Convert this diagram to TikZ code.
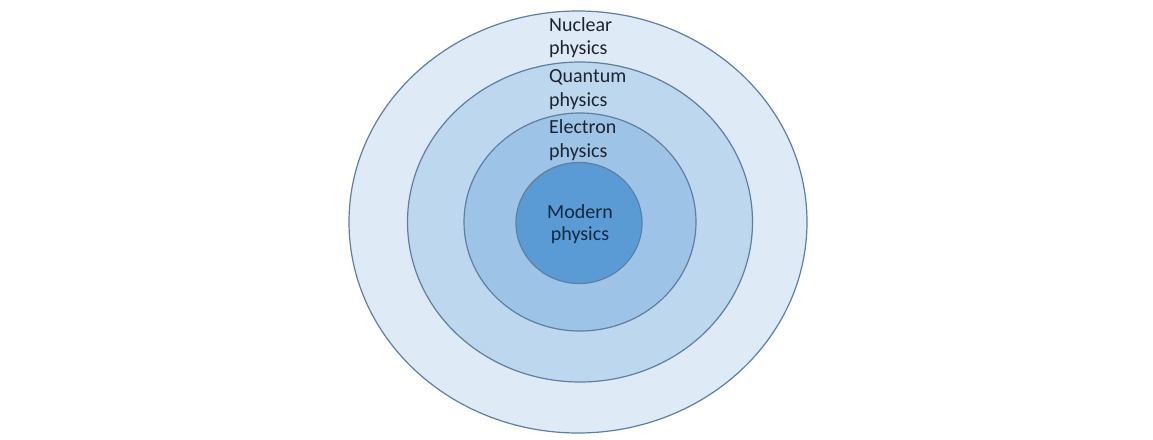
\documentclass[tikz,border=0pt]{standalone}
\usepackage{fontspec}
\setmainfont{Carlito}
\usetikzlibrary{shapes.geometric}
\definecolor{ringA}{HTML}{DEEAF6}
\definecolor{ringB}{HTML}{BDD7EE}
\definecolor{ringC}{HTML}{9DC3E6}
\definecolor{ringD}{HTML}{5B9BD5}
\definecolor{edgecol}{HTML}{5E7EA2}
\definecolor{txt}{HTML}{1C2430}
\definecolor{txtdark}{HTML}{0F2842}
\begin{document}
\begin{tikzpicture}[x=1pt,y=-1pt,
  ring/.style={ellipse, draw=edgecol, line width=1.2pt, inner sep=0pt},
  lbl/.style={anchor=base west, inner sep=0pt, text=txt, font=\fontsize{20}{23.5}\selectfont},
  clbl/.style={anchor=base, inner sep=0pt, text=txtdark, font=\fontsize{20}{23.5}\selectfont}]
\useasboundingbox[fill=white] (0,0) rectangle (1153,439);
\node[ring, fill=ringA, minimum width=458pt, minimum height=422pt] (nuclear) at (578,222) {};
\node[ring, fill=ringB, minimum width=345pt, minimum height=320pt] (quantum) at (580,222) {};
\node[ring, fill=ringC, minimum width=232pt, minimum height=218pt] (electron) at (580,222) {};
\node[ring, fill=ringD, minimum width=126pt, minimum height=121pt] (modern) at (579,223) {};
\node[lbl] (n1) at (549,31) {Nuclear};
\node[lbl] (n2) at (549,54) {physics};
\node[lbl] (q1) at (549,82) {Quantum};
\node[lbl] (q2) at (549,106) {physics};
\node[lbl] (e1) at (549,133) {Electron};
\node[lbl] (e2) at (549,157) {physics};
\node[clbl] (m1) at (580,218) {Modern};
\node[clbl] (m2) at (580,240) {physics};
\end{tikzpicture}
\end{document}
